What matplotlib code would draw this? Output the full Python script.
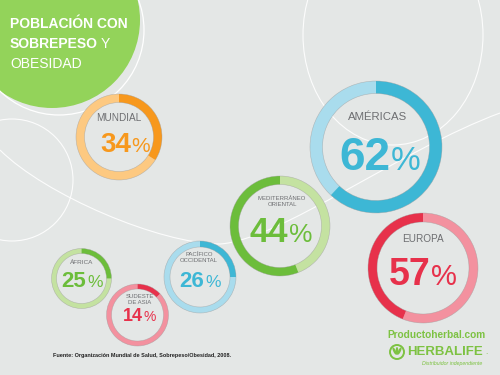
import matplotlib

matplotlib.use("Agg")
import matplotlib.pyplot as plt
from matplotlib.patches import Circle, Wedge, Ellipse, PathPatch
from matplotlib.path import Path

plt.rcParams["font.family"] = ["Liberation Sans", "DejaVu Sans"]

# Datos (OMS 2008)
regions = ["MUNDIAL", "AMÉRICAS", "MEDITERRÁNEO\nORIENTAL", "EUROPA", "ÁFRICA", "PACÍFICO\nOCCIDENTAL", "SUDESTE\nDE ASIA"]
values = [34, 62, 44, 57, 25, 26, 14]
# fracción del anillo pintada en oscuro, tal como aparece en la imagen
arc_share = [0.34, 0.62, 0.56, 0.44, 0.25, 0.25, 0.13]
clockwise = [True, True, False, False, True, True, True]

dark = ["#f7981d", "#3db7d5", "#6cbd3b", "#e7314b", "#6cbd3b", "#3db7d5", "#e7314b"]
light = ["#fdc981", "#a9dced", "#c4e2a1", "#f3919f", "#c4e2a1", "#a9dced", "#f3919f"]

# disposición en píxeles (y hacia abajo): centro, radio exterior, grosor
ring_xy = [(119, 137), (376, 147), (280, 226), (423, 268), (81.5, 278.5), (200, 277), (137.5, 315)]
ring_r = [43, 66, 50, 55, 30, 36, 31]
ring_w = [8.5, 12.5, 8.5, 9, 5, 6, 5]
label_xy = [(119, 118), (378, 117), (282, 201.5), (423, 239), (82, 263), (199, 257.5), (140, 299.5)]
label_fs = [7.2, 8.2, 4.3, 7.2, 4.6, 4.3, 4.3]
num_xy = [(125, 152), (380, 170), (281, 242), (423, 285), (82, 287), (200, 287), (139.5, 321)]
num_fs = [(20, 15), (33, 24), (25, 19), (27, 21), (16, 12.5), (16, 12.5), (13, 10)]

BG = "#e4e7e6"
H = 375


def Y(y):
    return H - y


fig = plt.figure(figsize=(5, 3.75), dpi=100)
fig.patch.set_facecolor(BG)
ax = fig.add_axes([0, 0, 1, 1])
ax.set_xlim(0, 500)
ax.set_ylim(0, H)
ax.set_aspect("equal")
ax.axis("off")

# líneas blancas decorativas del fondo
line_kw = dict(fill=False, ec="white", lw=0.8, alpha=0.9)
ax.add_patch(Circle((12, Y(180)), 61, **line_kw))
ax.add_patch(Ellipse((393, Y(35)), 180, 220, **line_kw))
curve = [(0, 150), (45, 195), (160, 244), (220, 244), (280, 240), (400, 150), (500, 113)]
codes = [Path.MOVETO] + [Path.CURVE4] * 6
ax.add_patch(PathPatch(Path([(x, Y(y)) for x, y in curve], codes), **line_kw))

# círculo verde del título
ax.add_patch(Circle((52, Y(20)), 88, fc="#93d35a", ec="none"))
ax.add_patch(Circle((59, Y(30)), 85, fill=False, ec="white", lw=0.9))

fig.canvas.draw()
renderer = fig.canvas.get_renderer()
inv = ax.transData.inverted()


def width_data(txt):
    bb = txt.get_window_extent(renderer)
    return inv.transform((bb.x1, 0))[0] - inv.transform((bb.x0, 0))[0]


ax.text(10, Y(28), "POBLACIÓN CON", color="white", fontsize=10, fontweight="bold", va="baseline")
t = ax.text(10, Y(48), "SOBREPESO", color="white", fontsize=10, fontweight="bold", va="baseline")
ax.text(10 + width_data(t) + 3, Y(48), "Y", color="white", fontsize=10, va="baseline")
ax.text(10, Y(68), "OBESIDAD", color="white", fontsize=10, va="baseline")

# anillos
for i in range(len(values)):
    cx, cy = ring_xy[i]
    cy = Y(cy)
    r, w = ring_r[i], ring_w[i]
    span = 360 * arc_share[i]
    if clockwise[i]:
        a0, a1 = 90 - span, 90
    else:
        a0, a1 = 90, 90 + span
    ax.add_patch(Wedge((cx, cy), r, a1, a0 + 360, width=w, fc=light[i], ec="none"))
    ax.add_patch(Wedge((cx, cy), r, a0, a1, width=w, fc=dark[i], ec="none"))
    ax.add_patch(Circle((cx, cy), r, fill=False, ec="#9a9a9a", lw=0.4, alpha=0.6))
    ax.add_patch(Circle((cx, cy), r - w, fill=False, ec="#9a9a9a", lw=0.4, alpha=0.6))

    lx, ly = label_xy[i]
    ax.text(lx, Y(ly), regions[i], color="#6d6e71", fontsize=label_fs[i], ha="center", va="center",
            linespacing=1.1)

    # número en negrita + signo % más pequeño, centrados juntos
    nx, ny = num_xy[i]
    t1 = ax.text(0, Y(ny), str(values[i]), color=dark[i], fontsize=num_fs[i][0], fontweight="bold",
                 ha="left", va="baseline")
    t2 = ax.text(0, Y(ny), "%", color=dark[i], fontsize=num_fs[i][1], ha="left", va="baseline")
    w1, w2 = width_data(t1), width_data(t2)
    gap = 0.5
    x0 = nx - (w1 + gap + w2) / 2
    t1.set_x(x0)
    t2.set_x(x0 + w1 + gap)

# pie de página
ax.text(53, Y(355), "Fuente: Organización Mundial de Salud, Sobrepeso/Obesidad, 2008.", fontsize=4.0,
        fontweight="bold", color="#222222", va="center")

green = "#7dc242"
ax.text(437, Y(335), "Productoherbal.com", fontsize=7.3, fontweight="bold", color=green, ha="center", va="center")
ax.text(445, Y(352), "HERBALIFE", fontsize=9.5, fontweight="bold", color=green, ha="center", va="center")
ax.text(485, Y(354), ".", fontsize=6, color=green, ha="left", va="baseline")
ax.text(452, Y(363), "Distribuidor independiente", fontsize=3.8, style="italic", color=green, ha="center",
        va="center")
# logo
ax.add_patch(Circle((397, Y(352)), 7, fill=False, ec=green, lw=1.4))
for ang, dx in [(25, -2.5), (-25, 2.5), (0, 0)]:
    ax.add_patch(Ellipse((397 + dx, Y(351)), 2.6, 8, angle=ang, fc=green, ec="none"))

fig.savefig("out.png", dpi=100, facecolor=BG)
